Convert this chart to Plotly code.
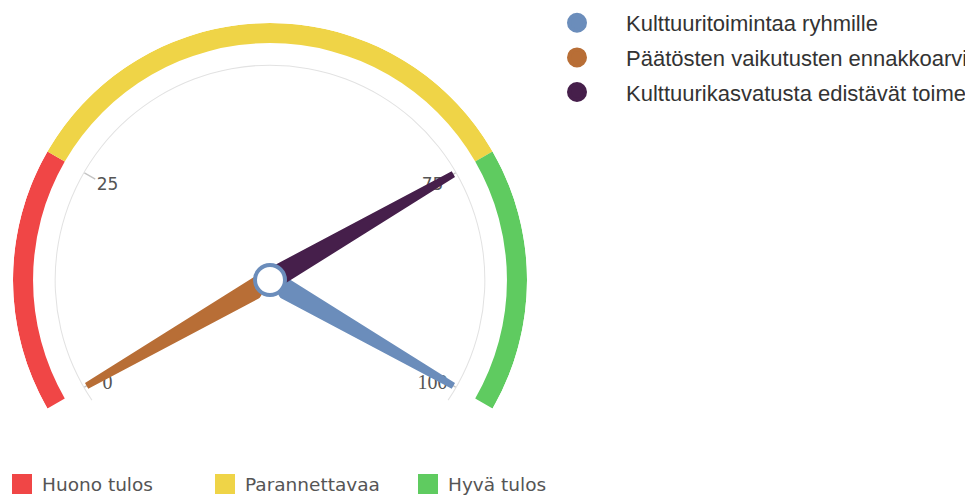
import numpy as np
import plotly.graph_objects as go

# Mittarin osoittimet
series_names = [
    "Kulttuuritoimintaa ryhmille",
    "Päätösten vaikutusten ennakkoarviointi",
    "Kulttuurikasvatusta edistävät toimenpiteet",
]
series_values = [100, 0, 75]
series_colors = ["#6b8dbb", "#b86e36", "#461f4b"]

# Värivyöhykkeet
band_names = ["Huono tulos", "Parannettavaa", "Hyvä tulos"]
band_start = [0, 25, 75]
band_end = [25, 75, 100]
band_colors = ["#f04646", "#efd447", "#5fcb60"]

tick_values = [0, 25, 75, 100]
tick_labels = ["0", "25", "75", "100"]

GAUGE_DEG = 240  # asteikko 0..100 kattaa 240 astetta


def to_theta(v):
    return np.asarray(v, dtype=float) * GAUGE_DEG / 100


fig = go.Figure()

# vyöhykkeet
t0 = to_theta(band_start)
t1 = to_theta(band_end)
fig.add_trace(go.Barpolar(
    r=[0.078] * 3, base=[0.922] * 3, theta=(t0 + t1) / 2, width=t1 - t0,
    marker=dict(color=band_colors, line_width=0),
    showlegend=False, hoverinfo="skip",
))

# ohut harmaa kaari
fig.add_trace(go.Barpolar(
    r=[0.004], base=[0.834], theta=[to_theta(50)], width=[GAUGE_DEG + 8],
    marker=dict(color="#e2e2e2", line_width=0),
    showlegend=False, hoverinfo="skip",
))

# tick-viivat
tick_r, tick_t = [], []
for v in to_theta(tick_values):
    tick_r += [0.785, 0.834, None]
    tick_t += [v, v, None]
fig.add_trace(go.Scatterpolar(
    r=tick_r, theta=tick_t, mode="lines",
    line=dict(color="#c4c4c4", width=1.3),
    showlegend=False, hoverinfo="skip",
))

# tick-tekstit: päätyarvot eri fontilla ja hieman alempana
ends = [0, 3]
mids = [1, 2]
fig.add_trace(go.Scatterpolar(
    r=[0.73] * len(mids), theta=to_theta([tick_values[i] for i in mids]),
    mode="text", text=[tick_labels[i] for i in mids],
    textfont=dict(family="DejaVu Sans", size=17, color="#555555"),
    cliponaxis=False, showlegend=False, hoverinfo="skip",
))
fig.add_trace(go.Scatterpolar(
    r=[0.73] * len(ends), theta=to_theta([tick_values[i] for i in ends]),
    mode="text", text=[tick_labels[i] for i in ends], textposition="bottom center",
    textfont=dict(family="Liberation Serif", size=20, color="#555555"),
    cliponaxis=False, showlegend=False, hoverinfo="skip",
))

# osoittimet
L, base_w, tip_w = 0.82, 0.039, 0.009
tip_r = np.hypot(L, tip_w)
tip_d = np.degrees(np.arctan2(tip_w, L))
for name, val, col in zip(series_names, series_values, series_colors):
    th = float(to_theta(val))
    fig.add_trace(go.Scatterpolar(
        r=[base_w, tip_r, tip_r, base_w, base_w],
        theta=[th - 90, th - tip_d, th + tip_d, th + 90, th - 90],
        mode="lines", fill="toself", fillcolor=col,
        line=dict(color=col, width=2),
        name=name, showlegend=False, hoverinfo="name",
    ))

# napa
fig.add_trace(go.Scatterpolar(
    r=[0], theta=[0], mode="markers",
    marker=dict(size=30, color="white", line=dict(color=series_colors[0], width=4)),
    cliponaxis=False, showlegend=False, hoverinfo="skip",
))

# selitteet
for i, (name, col) in enumerate(zip(series_names, series_colors)):
    fig.add_trace(go.Scatterpolar(
        r=[None], theta=[None], mode="markers", name=name,
        marker=dict(size=16, color=col, line=dict(color=col, width=4)),
        legendgroup="s%d" % i, legend="legend",
    ))
for name, col in zip(band_names, band_colors):
    fig.add_trace(go.Scatterpolar(
        r=[None], theta=[None], mode="markers", name=name,
        marker=dict(size=16, symbol="square", color=col, line=dict(color=col, width=4)),
        legend="legend2",
    ))

fig.update_layout(
    width=973, height=495,
    margin=dict(l=0, r=0, t=0, b=0, autoexpand=False),
    paper_bgcolor="white",
    polar=dict(
        domain=dict(x=[5 / 973, 519 / 973], y=[1 - 494.6 / 495, 1 - 15 / 495]),
        sector=[-60, 240], bgcolor="white",
        angularaxis=dict(rotation=210, direction="clockwise", visible=False),
        radialaxis=dict(visible=False, range=[0, 1]),
    ),
    legend=dict(
        x=520 / 973, y=1 + 6 / 495, xanchor="left", yanchor="top",
        font=dict(family="Liberation Sans, Arial", size=22, color="#333333"),
        itemwidth=88, tracegroupgap=3, bgcolor="rgba(0,0,0,0)",
    ),
    legend2=dict(
        orientation="h", x=-6 / 973, y=-0.001, xanchor="left", yanchor="bottom",
        font=dict(family="DejaVu Sans", size=18.5, color="#555555"),
        entrywidth=158, bgcolor="rgba(0,0,0,0)",
    ),
)

fig.write_html("out.html")
